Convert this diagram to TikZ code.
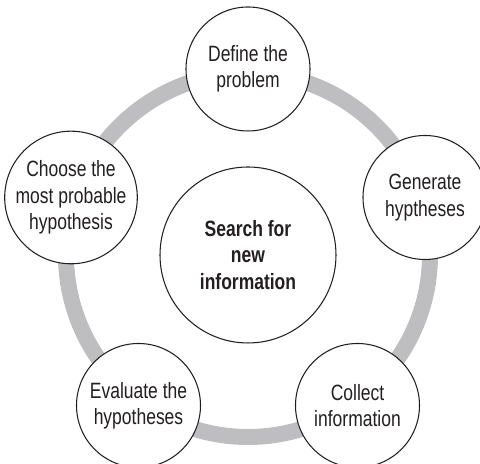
\documentclass[tikz,border=0pt]{standalone}
\usepackage{fontspec}
\setmainfont{Liberation Sans}[FakeStretch=0.79]
\usepackage{tikz}
\definecolor{ringgray}{RGB}{190,190,192}
\definecolor{inkgray}{RGB}{35,31,32}
\newcommand{\stagept}[4][]{\node[circle,draw=inkgray,fill=white,line width=0.6pt,minimum size=2.48cm,inner sep=0pt,align=center,font=\fontsize{12.6}{15}\selectfont,text=inkgray,#1] at (#2) (#3) {#4}}

\begin{document}
\begin{tikzpicture}
				\useasboundingbox (0,0) rectangle (9.6,9.28);
				\draw[ringgray,line width=0.32cm] (4.96,4.18) circle (3.64);
				
				\stagept[minimum size=3.52cm,font=\bfseries\fontsize{12.6}{15}\selectfont]{4.96,4.18}{search}{Search for\\new\\information};
				
				\stagept{4.96,7.90}{define}{Define the\\problem};
				\stagept{8.50,5.33}{generate}{Generate\\hyptheses};
				\stagept{7.15,1.17}{collect}{Collect\\information};
				\stagept{2.77,1.17}{evaluate}{Evaluate the\\hypotheses};
				\stagept{1.42,5.33}{choose}{Choose the\\most probable\\hypothesis};
				
				\end{tikzpicture}
\end{document}
